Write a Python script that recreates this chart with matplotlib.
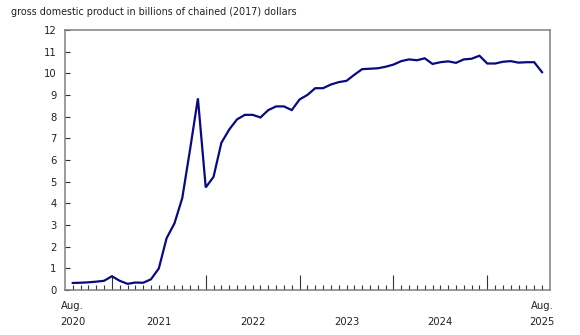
import matplotlib
matplotlib.use("Agg")
import matplotlib.pyplot as plt
import matplotlib.transforms as mtransforms
import numpy as np

# monthly GDP, Aug 2020 .. Aug 2025 (billions of chained 2017 dollars)
gdp = [0.33, 0.34, 0.36, 0.39, 0.43, 0.64, 0.43, 0.29, 0.35, 0.34,
       0.50, 1.00, 2.40, 3.08, 4.25, 6.50, 8.85, 4.74, 5.23, 6.80,
       7.41, 7.88, 8.09, 8.09, 7.97, 8.31, 8.48, 8.48, 8.31, 8.80,
       9.01, 9.32, 9.32, 9.49, 9.60, 9.66, 9.94, 10.20, 10.22, 10.24,
       10.31, 10.41, 10.57, 10.65, 10.61, 10.70, 10.44, 10.52, 10.56, 10.49,
       10.65, 10.68, 10.82, 10.46, 10.46, 10.54, 10.57, 10.50, 10.52, 10.52,
       10.06]
year_labels = ["2021", "2022", "2023", "2024"]
year_starts = [5, 17, 29, 41, 53]   # January positions
end_labels = ["Aug.\n2020", "Aug.\n2025"]
yticks = list(range(0, 13))

x = np.arange(len(gdp))
fs = 7.2
txtc = "#222222"

fig = plt.figure(figsize=(5.8, 3.35), dpi=100)
ax = fig.add_axes([0.112, 0.134, 0.836, 0.776])

ax.plot(x, gdp, color="#0a0a80", lw=1.6, solid_joinstyle="miter")

ax.set_xlim(-1, 61)
ax.set_ylim(0, 12)

for s in ax.spines.values():
    s.set_color("#808080")
    s.set_linewidth(1.1)

ax.set_yticks(yticks)
ax.set_yticklabels([str(v) for v in yticks])
ax.tick_params(axis="y", direction="in", length=3.6, width=0.8, color="#333333",
               labelsize=fs, pad=6, labelcolor=txtc)

# month ticks (minor) and year boundary ticks (major)
ax.set_xticks(x, minor=True)
ax.set_xticks(year_starts)
ax.set_xticklabels([])
ax.tick_params(axis="x", which="minor", direction="in", length=3.6, width=0.8, color="#333333")
ax.tick_params(axis="x", which="major", direction="in", length=11, width=0.8, color="#333333")

trans = mtransforms.blended_transform_factory(ax.transData, ax.transAxes)
ly = -0.04
ls = 1.8
ax.text(0, ly, end_labels[0], transform=trans, ha="center", va="top",
        fontsize=fs, color=txtc, linespacing=ls)
ax.text(60, ly, end_labels[1], transform=trans, ha="center", va="top",
        fontsize=fs, color=txtc, linespacing=ls)
for i, lab in enumerate(year_labels):
    xc = (year_starts[i] + year_starts[i + 1]) / 2
    ax.text(xc, ly, "\n" + lab, transform=trans, ha="center", va="top",
            fontsize=fs, color=txtc, linespacing=ls)

fig.text(11 / 580, 1 - 12 / 335, "gross domestic product in billions of chained (2017) dollars",
         ha="left", va="center", fontsize=6.9, color=txtc)

fig.savefig("out.png", dpi=100)
